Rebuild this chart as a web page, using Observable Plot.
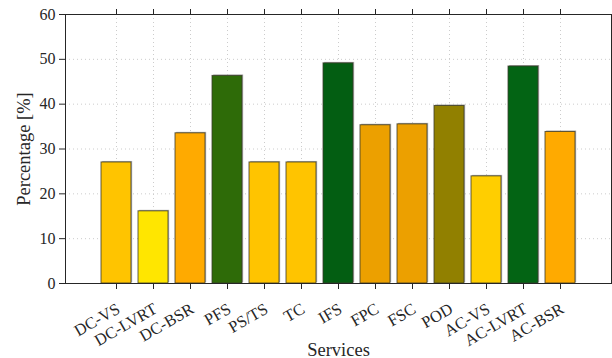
<!DOCTYPE html>
<html>
<head>
<meta charset="utf-8">
<script src="https://cdn.jsdelivr.net/npm/d3@7"></script>
<script src="https://cdn.jsdelivr.net/npm/@observablehq/plot@0.6"></script>
<style>
body { margin: 0; background: #fff; }
#chart svg text { font-family: "Liberation Serif" !important; }
#chart g[aria-label="y-axis tick label"] { font-size: 16px !important; }
#chart g[aria-label="x-axis tick label"] { font-size: 16.5px !important; }
#chart g[aria-label="y-axis label"], #chart g[aria-label="x-axis label"] { font-size: 18.5px !important; }
</style>
</head>
<body>
<div id="chart"></div>
<script>
const services = ["DC-VS","DC-LVRT","DC-BSR","PFS","PS/TS","TC","IFS","FPC","FSC","POD","AC-VS","AC-LVRT","AC-BSR"];
const percentages = [27.0, 16.1, 33.5, 46.3, 27.0, 27.0, 49.1, 35.3, 35.5, 39.6, 23.9, 48.4, 33.8];
const colors = ["#FFC400","#FFE600","#FFAA00","#2E6B08","#FFC400","#FFC400","#035E12","#ECA000","#ECA000","#918000","#FFCE00","#036414","#FFAA00"];
const yTicks = [0,10,20,30,40,50,60];

const data = services.map((s, i) => ({service: s, value: percentages[i], color: colors[i]}));

const chart = Plot.plot({
  width: 612,
  height: 358,
  marginLeft: 65,
  marginRight: 1,
  marginTop: 14,
  marginBottom: 75,
  style: {fontFamily: "Liberation Serif", color: "#262626", background: "#fff"},
  x: {domain: services, paddingInner: 0.2, paddingOuter: 0.8},
  y: {domain: [0, 60], ticks: yTicks},
  marks: [
    Plot.gridY(yTicks, {stroke: "#cccccc", strokeOpacity: 1, strokeDasharray: "1,3"}),
    Plot.gridX(services, {stroke: "#cccccc", strokeOpacity: 1, strokeDasharray: "1,3"}),
    Plot.barY(data, {x: "service", y: "value", fill: "#b4b4b4", dx: 1.2, dy: -1}),
    Plot.barY(data, {x: "service", y: "value", fill: "color", stroke: "#3a3a2a", strokeOpacity: 0.8, strokeWidth: 1}),
    Plot.frame({stroke: "#262626", strokeWidth: 1}),
    Plot.axisY({ticks: yTicks, tickSize: 6, tickPadding: 4, label: "Percentage [%]", labelArrow: "none", labelAnchor: "center", labelOffset: 49, fill: "#262626"}),
    Plot.axisX({anchor: "bottom", tickSize: 6, tickFormat: () => "", label: "Services", labelArrow: "none", labelAnchor: "center", fill: "#262626"}),
    Plot.axisX({anchor: "bottom", tickSize: 0, tickRotate: -30, tickPadding: 24, dx: 2, label: null, fill: "#262626"}),
    Plot.axisX({anchor: "top", tickSize: 6, tickFormat: () => "", label: null})
  ]
});
document.getElementById("chart").appendChild(chart);
</script>
</body>
</html>
